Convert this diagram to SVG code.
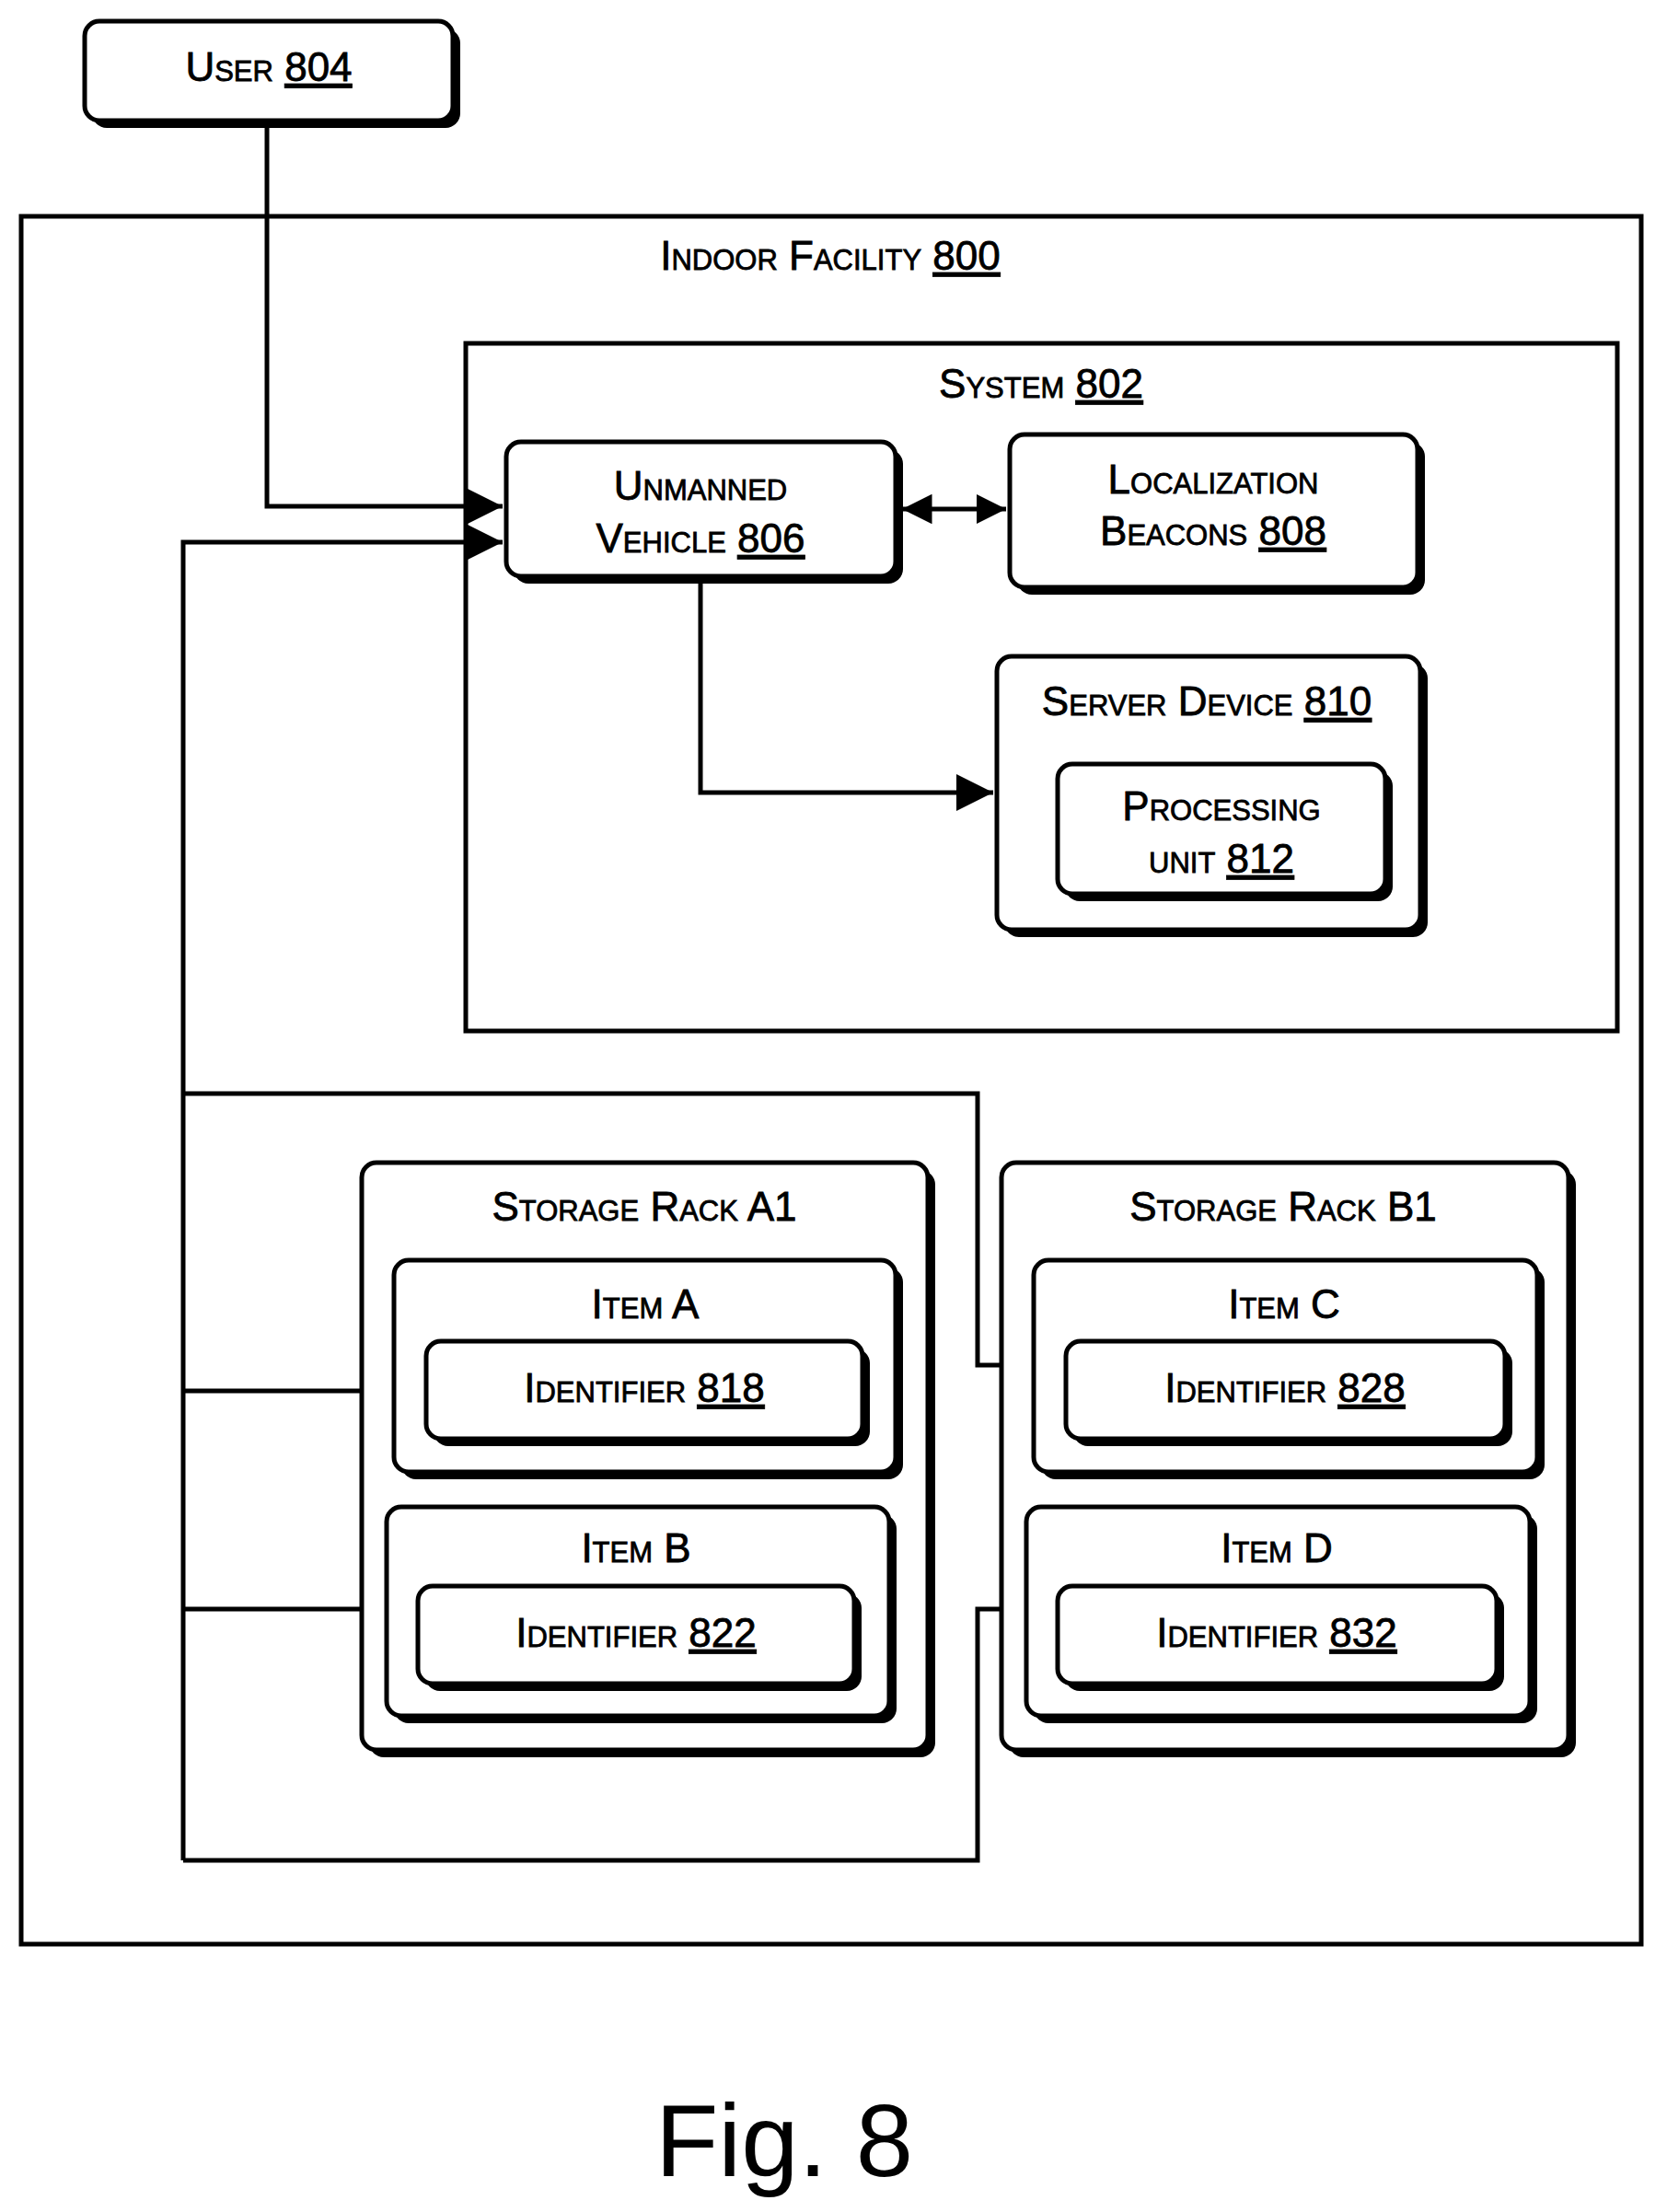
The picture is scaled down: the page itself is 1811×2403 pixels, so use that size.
<svg xmlns="http://www.w3.org/2000/svg" width="1811" height="2403" viewBox="0 0 1811 2403">
<style>
.b{fill:#fff;stroke:#000;stroke-width:5}
.s{fill:#000}
.r{fill:none;stroke:#000;stroke-width:5}
text{font-family:"Liberation Sans",Arial,sans-serif;font-size:44px;font-variant:small-caps;text-anchor:middle;fill:#000;stroke:#000;stroke-width:0.8}
.u{text-decoration:underline}
.c{fill:none;stroke:#000;stroke-width:5}
</style>
<defs>
<marker id="m" viewBox="0 0 10 10" refX="10" refY="5" markerWidth="8" markerHeight="8" orient="auto-start-reverse"><path d="M0,0L10,5L0,10z"/></marker>
<marker id="n" viewBox="0 0 10 10" refX="10" refY="5" markerWidth="6.5" markerHeight="6.5" orient="auto-start-reverse"><path d="M0,0L10,5L0,10z"/></marker>
</defs>
<g id="facility"><rect class="r" x="23" y="235" width="1760" height="1877"/><text x="902" y="293">Indoor Facility <tspan class="u">800</tspan></text></g>
<g id="system"><rect class="r" x="506" y="373" width="1251" height="747"/><text x="1131" y="432">System <tspan class="u">802</tspan></text></g>
<g id="connectors">
<path class="c" d="M290,131V550H546" marker-end="url(#m)"/>
<path class="c" d="M199,2021V589H546" marker-end="url(#m)"/>
<path class="c" d="M980,553H1093" marker-start="url(#n)" marker-end="url(#n)"/>
<path class="c" d="M761,630V861H1079" marker-end="url(#m)"/>
<path class="c" d="M199,1188H1062V1483H1123"/>
<path class="c" d="M199,2021H1062V1748H1115"/>
<path class="c" d="M199,1511H428"/>
<path class="c" d="M199,1748H420"/>
</g>
<g id="user"><rect class="s" x="100" y="31" width="400" height="108" rx="16"/><rect class="b" x="92" y="23" width="400" height="108" rx="16"/><text x="292" y="88">User <tspan class="u">804</tspan></text></g>
<g id="uv"><rect class="s" x="558" y="488" width="423" height="146" rx="16"/><rect class="b" x="550" y="480" width="423" height="146" rx="16"/><text x="761" y="543">Unmanned</text><text x="761" y="600">Vehicle <tspan class="u">806</tspan></text></g>
<g id="lb"><rect class="s" x="1105" y="480" width="443" height="166" rx="16"/><rect class="b" x="1097" y="472" width="443" height="166" rx="16"/><text x="1318" y="536">Localization</text><text x="1318" y="592">Beacons <tspan class="u">808</tspan></text></g>
<g id="server"><rect class="s" x="1091" y="721" width="460" height="297" rx="16"/><rect class="b" x="1083" y="713" width="460" height="297" rx="16"/><text x="1311" y="777">Server Device <tspan class="u">810</tspan></text>
<rect class="s" x="1157" y="838" width="356" height="141" rx="16"/><rect class="b" x="1149" y="830" width="356" height="141" rx="16"/><text x="1327" y="891">Processing</text><text x="1327" y="948">unit <tspan class="u">812</tspan></text></g>
<g id="rackA"><rect class="s" x="401" y="1271" width="615" height="638" rx="16"/><rect class="b" x="393" y="1263" width="615" height="638" rx="16"/><text x="700" y="1326">Storage Rack A1</text></g>
<g id="itemA"><rect class="s" x="436" y="1377" width="545" height="230" rx="16"/><rect class="b" x="428" y="1369" width="545" height="230" rx="16"/><text x="701" y="1432">Item A</text>
<rect class="s" x="471" y="1465" width="474" height="106" rx="16"/><rect class="b" x="463" y="1457" width="474" height="106" rx="16"/><text x="700" y="1523">Identifier <tspan class="u">818</tspan></text></g>
<g id="itemB"><rect class="s" x="428" y="1645" width="546" height="227" rx="16"/><rect class="b" x="420" y="1637" width="546" height="227" rx="16"/><text x="691" y="1697">Item B</text>
<rect class="s" x="462" y="1731" width="474" height="106" rx="16"/><rect class="b" x="454" y="1723" width="474" height="106" rx="16"/><text x="691" y="1789">Identifier <tspan class="u">822</tspan></text></g>
<g id="rackB"><rect class="s" x="1096" y="1271" width="616" height="638" rx="16"/><rect class="b" x="1088" y="1263" width="616" height="638" rx="16"/><text x="1394" y="1326">Storage Rack B1</text></g>
<g id="itemC"><rect class="s" x="1131" y="1377" width="547" height="230" rx="16"/><rect class="b" x="1123" y="1369" width="547" height="230" rx="16"/><text x="1395" y="1432">Item C</text>
<rect class="s" x="1166" y="1465" width="477" height="106" rx="16"/><rect class="b" x="1158" y="1457" width="477" height="106" rx="16"/><text x="1396" y="1523">Identifier <tspan class="u">828</tspan></text></g>
<g id="itemD"><rect class="s" x="1123" y="1645" width="547" height="227" rx="16"/><rect class="b" x="1115" y="1637" width="547" height="227" rx="16"/><text x="1387" y="1697">Item D</text>
<rect class="s" x="1157" y="1731" width="477" height="106" rx="16"/><rect class="b" x="1149" y="1723" width="477" height="106" rx="16"/><text x="1387" y="1789">Identifier <tspan class="u">832</tspan></text></g>
<text x="852" y="2364" style="font-size:112px;font-variant:normal;stroke:none">Fig. 8</text>
</svg>
